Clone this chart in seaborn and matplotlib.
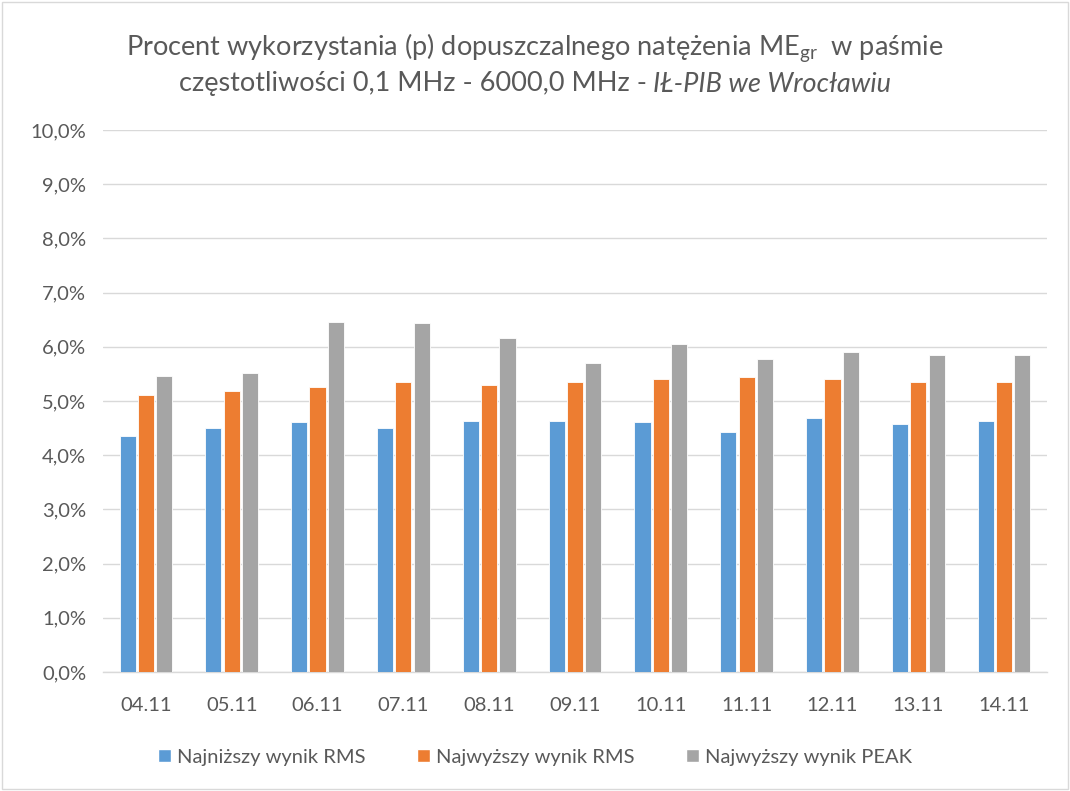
import pandas as pd
import matplotlib.pyplot as plt
import seaborn as sns
from matplotlib.patches import Patch

# dane (procent wykorzystania p, %)
dates = ["04.11", "05.11", "06.11", "07.11", "08.11", "09.11",
         "10.11", "11.11", "12.11", "13.11", "14.11"]
rms_min = [4.36, 4.50, 4.61, 4.50, 4.64, 4.64, 4.61, 4.43, 4.69, 4.57, 4.64]
rms_max = [5.11, 5.18, 5.25, 5.35, 5.30, 5.35, 5.41, 5.44, 5.41, 5.35, 5.35]
peak_max = [5.46, 5.51, 6.45, 6.43, 6.17, 5.71, 6.06, 5.77, 5.91, 5.84, 5.84]
series = ["Najniższy wynik RMS", "Najwyższy wynik RMS", "Najwyższy wynik PEAK"]
colors = ["#5B9BD5", "#ED7D31", "#A5A5A5"]

df = pd.DataFrame({"data": dates * 3,
                   "wartosc": rms_min + rms_max + peak_max,
                   "seria": [s for s in series for _ in dates]})

sns.set_style("white")
plt.rcParams["font.family"] = ["Lato", "DejaVu Sans"]
txt = "#595959"

fig = plt.figure(figsize=(10.7, 7.91), dpi=100)
ax = fig.add_axes([103 / 1070, 1 - 672 / 791, 944 / 1070, 542 / 791])

sns.barplot(data=df, x="data", y="wartosc", hue="seria", palette=colors,
            width=0.64, gap=0.12, edgecolor="white", linewidth=0.6,
            saturation=1, legend=False, ax=ax, zorder=3)

ax.set_ylim(0, 10)
ax.set_yticks(range(0, 11))
ax.set_yticklabels([f"{v:.1f}%".replace(".", ",") for v in range(0, 11)],
                   fontsize=14.5, color=txt)
ax.set_xlim(-0.5, len(dates) - 0.5)
ax.tick_params(axis="x", labelsize=14.5, labelcolor=txt, length=0, pad=18)
ax.tick_params(axis="y", length=0, pad=12)
ax.set_xticks([i - 0.5 for i in range(len(dates) + 1)], minor=True)
ax.tick_params(axis="x", which="minor", length=7, color="#d9d9d9", width=1)
ax.set_xlabel("")
ax.set_ylabel("")
ax.grid(axis="y", color="#d9d9d9", linewidth=1, zorder=0)
for s in ["left", "right", "top"]:
    ax.spines[s].set_visible(False)
ax.spines["bottom"].set_color("#d9d9d9")
ax.spines["bottom"].set_linewidth(1)

# tytul
fs = 19.5
fig.text(0.5, 1 - 48 / 791,
         "Procent wykorzystania (p) dopuszczalnego natężenia ME$_\\mathregular{gr}$  w paśmie",
         ha="center", va="center", fontsize=fs, color=txt)
fig.canvas.draw()
r = fig.canvas.get_renderer()
y2 = 1 - 84 / 791
t1 = fig.text(0, y2, "częstotliwości 0,1 MHz - 6000,0 MHz - ",
              ha="left", va="center", fontsize=fs, color=txt)
t2 = fig.text(0, y2, "IŁ-PIB we Wrocławiu", ha="left", va="center",
              fontsize=fs, color=txt, style="italic")
w1 = t1.get_window_extent(r).width / fig.bbox.width
w2 = t2.get_window_extent(r).width / fig.bbox.width
x0 = 0.5 - (w1 + w2) / 2
t1.set_x(x0)
t2.set_x(x0 + w1)

handles = [Patch(facecolor=c, label=s) for c, s in zip(colors, series)]
fig.legend(handles=handles, loc="center", bbox_to_anchor=(0.5, 1 - 757 / 791),
           ncol=3, frameon=False, fontsize=14.5, labelcolor=txt,
           handlelength=0.6, handleheight=0.6, handletextpad=0.3,
           columnspacing=2.6)

fig.patches.append(plt.Rectangle((0.002, 0.002), 0.996, 0.996, transform=fig.transFigure,
                                 fill=False, edgecolor="#d9d9d9", linewidth=1))
fig.savefig("out.png", dpi=100)
